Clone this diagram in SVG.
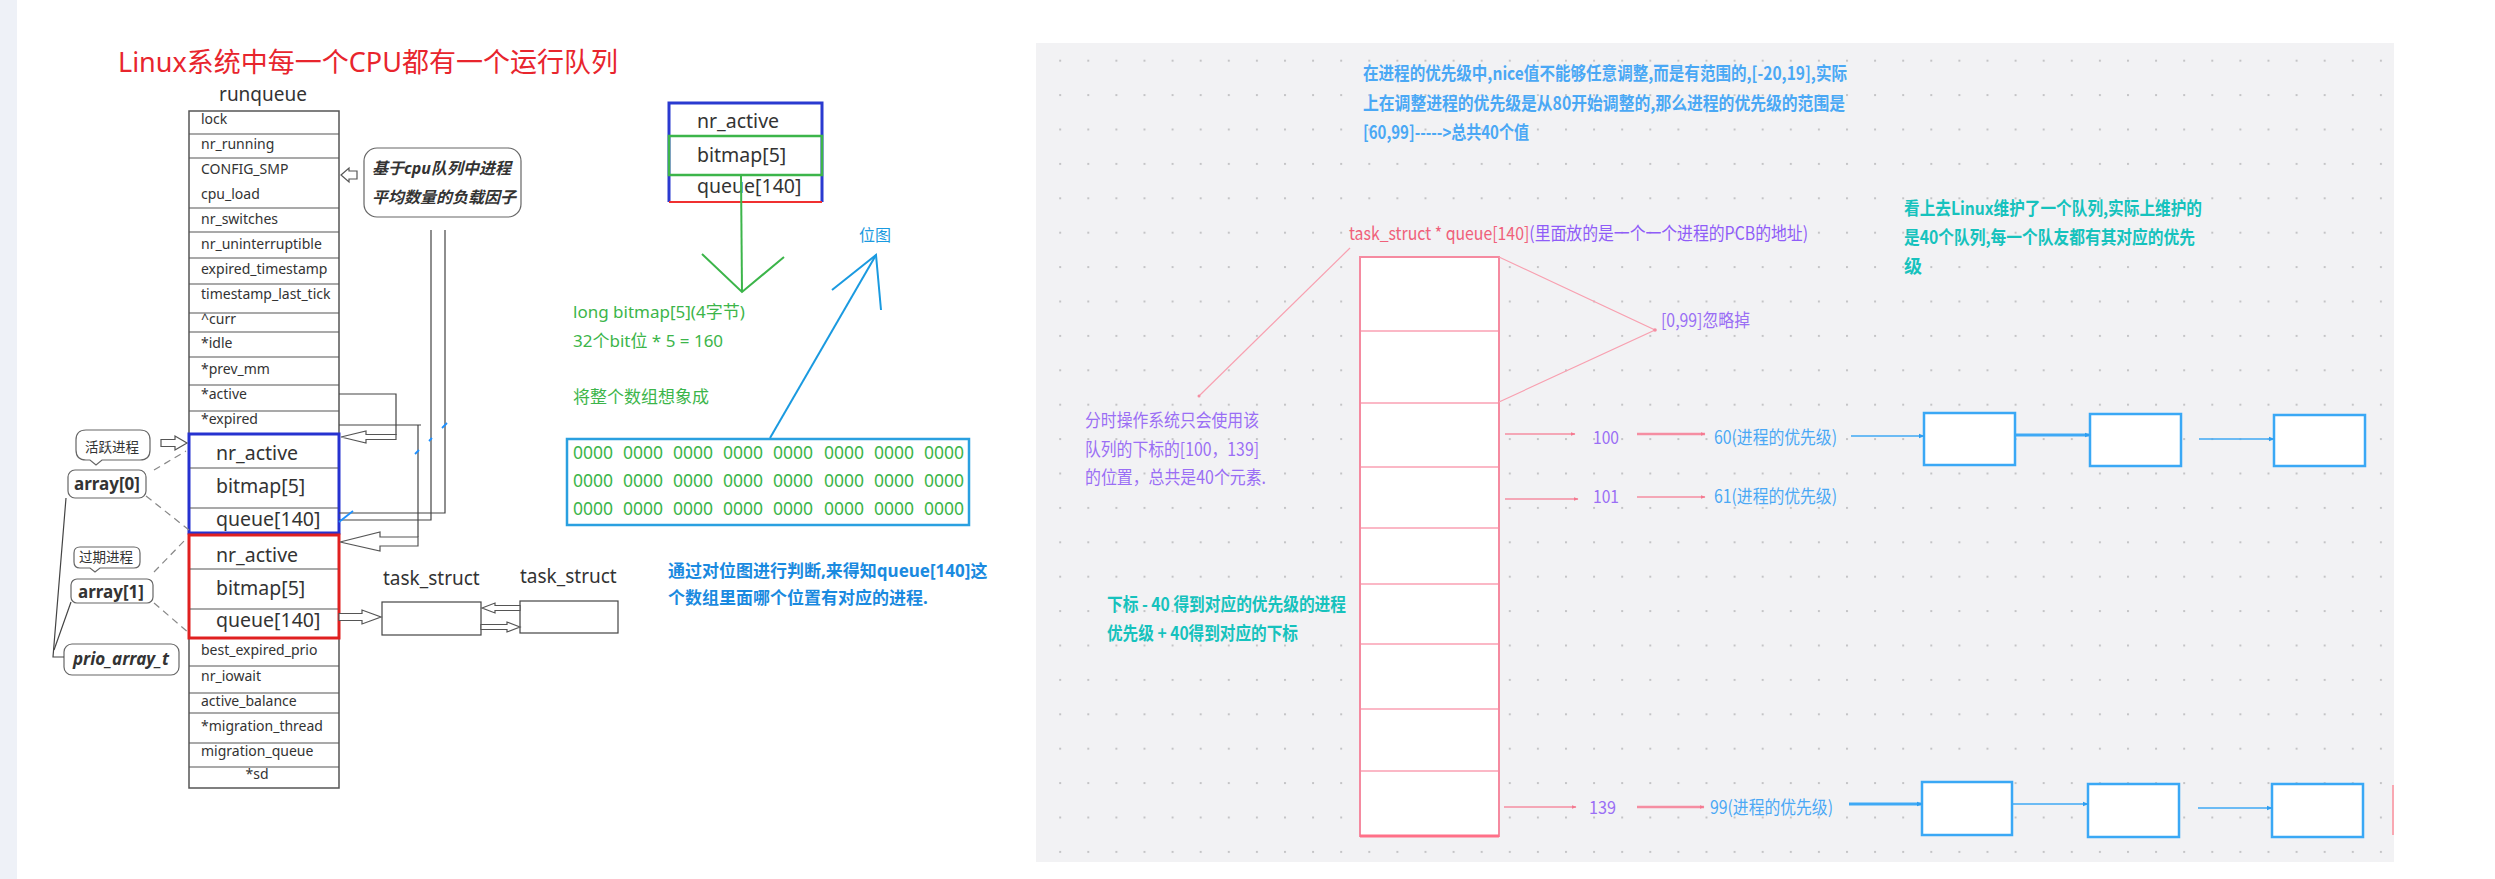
<svg xmlns="http://www.w3.org/2000/svg" width="2495" height="879" viewBox="0 0 2495 879">
<style>
.t{font-family:"Noto Sans","Noto Sans CJK SC",sans-serif;fill:#333}
.s14{font-size:14px}
.s19{font-size:19.5px}
.ln{stroke:#444;stroke-width:1.2;fill:none}
.rowl{stroke:#555;stroke-width:1.2}
.hol{fill:#fff;stroke:#555;stroke-width:1.2}
.dash{stroke:#888;stroke-width:1.2;stroke-dasharray:7 5;fill:none}
.bub{fill:#fff;stroke:#666;stroke-width:1.2}
.g{font-family:"Noto Sans","Noto Sans CJK SC",sans-serif;fill:#3cb54a;font-size:17px}
.z{font-family:"Noto Sans",sans-serif;fill:#3cb54a;font-size:17.5px}
.r{font-family:"Noto Sans CJK SC",sans-serif;font-size:18px}
.pur{fill:#9a6ef5}
.blu{fill:#4aa8f5}
.tea{fill:#16c2bd;font-weight:bold}
.pk{stroke:#f58ea2;stroke-width:1.5;fill:none}
.pkb{stroke:#f58ea2;stroke-width:2.5;fill:none}
.bl{stroke:#3fa9f5;stroke-width:1.5;fill:none}
.blb{stroke:#3fa9f5;stroke-width:3;fill:none}
.bbox{fill:#fff;stroke:#3aa8f5;stroke-width:2.5}
.qrow{stroke:#fbb8c6;stroke-width:2}
</style>
<defs>
<pattern id="dots" patternUnits="userSpaceOnUse" x="1059.2" y="59.7" width="28.1" height="34.4">
<rect x="0" y="0" width="2" height="2" fill="#c4c4c6"/>
</pattern>
<marker id="pka" viewBox="0 0 10 10" refX="9" refY="5" markerWidth="5" markerHeight="5" orient="auto" markerUnits="userSpaceOnUse">
<path d="M0,1 L10,5 L0,9 z" fill="#f5788f"/>
</marker>
<marker id="bla" viewBox="0 0 10 10" refX="9" refY="5" markerWidth="6" markerHeight="6" orient="auto" markerUnits="userSpaceOnUse">
<path d="M0,1 L10,5 L0,9 z" fill="#2f9ef0"/>
</marker>
</defs>

<!-- backgrounds -->
<rect x="0" y="0" width="2495" height="879" fill="#fff"/>
<rect x="0" y="0" width="17" height="879" fill="#eef1f7"/>
<rect x="1036" y="43" width="1358" height="819" fill="#f2f2f4"/>
<rect x="1036" y="43" width="1358" height="819" fill="url(#dots)"/>
<line x1="2393" y1="785" x2="2393" y2="835" stroke="#f9a8b2" stroke-width="2"/>

<!-- title -->
<text id="title" x="118" y="72" font-family="Noto Sans, Noto Sans CJK SC, sans-serif" font-size="27" fill="#e8252d">Linux系统中每一个CPU都有一个运行队列</text>

<!-- runqueue table -->
<g id="runqueue">
<text class="t" x="263" y="101" font-size="19" text-anchor="middle">runqueue</text>
<rect x="189" y="111" width="150" height="677" fill="#fff" stroke="#555" stroke-width="1.5"/>
<g class="rowl">
<line x1="189" y1="134" x2="339" y2="134"/><line x1="189" y1="158" x2="339" y2="158"/>
<line x1="189" y1="208" x2="339" y2="208"/><line x1="189" y1="232" x2="339" y2="232"/>
<line x1="189" y1="258" x2="339" y2="258"/><line x1="189" y1="284" x2="339" y2="284"/>
<line x1="189" y1="313" x2="339" y2="313"/><line x1="189" y1="332" x2="339" y2="332"/>
<line x1="189" y1="357" x2="339" y2="357"/><line x1="189" y1="385" x2="339" y2="385"/>
<line x1="189" y1="411" x2="339" y2="411"/>
<line x1="189" y1="666" x2="339" y2="666"/><line x1="189" y1="693" x2="339" y2="693"/>
<line x1="189" y1="713" x2="339" y2="713"/><line x1="189" y1="743" x2="339" y2="743"/>
<line x1="189" y1="767" x2="339" y2="767"/>
</g>
<g class="t s14">
<text x="201" y="124">lock</text>
<text x="201" y="149">nr_running</text>
<text x="201" y="174">CONFIG_SMP</text>
<text x="201" y="199">cpu_load</text>
<text x="201" y="224">nr_switches</text>
<text x="201" y="249">nr_uninterruptible</text>
<text x="201" y="274">expired_timestamp</text>
<text x="201" y="299">timestamp_last_tick</text>
<text x="201" y="324">^curr</text>
<text x="201" y="348">*idle</text>
<text x="201" y="374">*prev_mm</text>
<text x="201" y="399">*active</text>
<text x="201" y="424">*expired</text>
<text x="201" y="655">best_expired_prio</text>
<text x="201" y="681">nr_iowait</text>
<text x="201" y="706">active_balance</text>
<text x="201" y="731">*migration_thread</text>
<text x="201" y="756">migration_queue</text>
<text x="257" y="779" text-anchor="middle">*sd</text>
</g>
</g>

<g id="active-array">
<rect x="189" y="434" width="150" height="99" fill="#fff" stroke="#2632d0" stroke-width="3"/>
<line class="rowl" x1="190" y1="468" x2="338" y2="468"/>
<line class="rowl" x1="190" y1="508" x2="338" y2="508"/>
<text class="t s19" x="216" y="460">nr_active</text>
<text class="t s19" x="216" y="493">bitmap[5]</text>
<text class="t s19" x="216" y="526">queue[140]</text>
</g>

<g id="expired-array">
<rect x="189" y="535" width="150" height="103" fill="#fff" stroke="#e02020" stroke-width="3"/>
<line class="rowl" x1="190" y1="569" x2="338" y2="569"/>
<line class="rowl" x1="190" y1="609" x2="338" y2="609"/>
<text class="t s19" x="216" y="562">nr_active</text>
<text class="t s19" x="216" y="595">bitmap[5]</text>
<text class="t s19" x="216" y="627">queue[140]</text>
</g>

<g id="callout-load">
<rect x="364" y="148" width="157" height="69" rx="13" class="bub"/>
<text class="t" x="372" y="174" font-size="16" font-weight="bold" font-style="italic">基于cpu队列中进程</text>
<text class="t" x="372" y="203" font-size="16" font-weight="bold" font-style="italic">平均数量的负载因子</text>
</g>

<g id="label-active">
<path class="bub" d="M86,430 H140 Q150,430 150,440 V450 Q150,460 140,460 H102 L96,465 L90,460 H86 Q76,460 76,450 V440 Q76,430 86,430 Z"/>
<text class="t" x="85" y="452" font-size="13.5">活跃进程</text>
</g>
<g id="array0">
<rect class="bub" x="68" y="470" width="78" height="28" rx="7"/>
<text class="t" x="74" y="490" font-size="17" font-weight="bold">array[0]</text>
</g>
<g id="label-expired">
<path class="bub" d="M80,547 H134 Q140,547 140,553 V562 Q140,568 134,568 H100 L95,572 L90,568 H80 Q74,568 74,562 V553 Q74,547 80,547 Z"/>
<text class="t" x="79" y="562" font-size="13.5">过期进程</text>
</g>
<g id="array1">
<rect class="bub" x="71" y="579" width="82" height="24" rx="6"/>
<text class="t" x="78" y="598" font-size="17" font-weight="bold">array[1]</text>
</g>
<g id="prio-array-t">
<rect class="bub" x="64" y="644" width="115" height="31" rx="8"/>
<text class="t" x="73" y="665" font-size="17" font-weight="bold" font-style="italic">prio_array_t</text>
</g>

<g id="task-struct-1">
<text class="t" x="383" y="585" font-size="19">task_struct</text>
<rect x="382" y="602" width="99" height="33" fill="#fff" stroke="#444" stroke-width="1.2"/>
</g>
<g id="task-struct-2">
<text class="t" x="520" y="583" font-size="19">task_struct</text>
<rect x="520" y="601" width="98" height="32" fill="#fff" stroke="#444" stroke-width="1.2"/>
</g>

<!-- bitmap detail -->
<g id="bitmap-box">
<rect x="669" y="103" width="153" height="99" fill="#fff" stroke="none"/>
<path d="M669,202 V103 H822 V202" fill="none" stroke="#2a3ad0" stroke-width="3"/>
<line x1="669" y1="202" x2="822" y2="202" stroke="#f03030" stroke-width="2"/>
<rect x="669" y="136" width="153" height="39" fill="none" stroke="#3cb54a" stroke-width="2.5"/>
<text class="t s19" x="697" y="128">nr_active</text>
<text class="t s19" x="697" y="162">bitmap[5]</text>
<text class="t s19" x="697" y="193">queue[140]</text>
</g>
<g id="bitmap-notes">
<text class="g" x="573" y="318">long bitmap[5](4字节)</text>
<text class="g" x="573" y="347">32个bit位 * 5 = 160</text>
<text class="g" x="573" y="403">将整个数组想象成</text>
</g>
<text id="bitmap-label" x="859" y="241" font-family="Noto Sans CJK SC, sans-serif" font-size="16" fill="#1a9ae0">位图</text>
<g id="zeros-box">
<rect x="567" y="439" width="402" height="86" fill="#fff" stroke="#2aa0e0" stroke-width="2.5"/>
<g class="z">
<text x="573" y="459">0000</text><text x="623" y="459">0000</text><text x="673" y="459">0000</text><text x="723" y="459">0000</text><text x="773" y="459">0000</text><text x="824" y="459">0000</text><text x="874" y="459">0000</text><text x="924" y="459">0000</text>
<text x="573" y="487">0000</text><text x="623" y="487">0000</text><text x="673" y="487">0000</text><text x="723" y="487">0000</text><text x="773" y="487">0000</text><text x="824" y="487">0000</text><text x="874" y="487">0000</text><text x="924" y="487">0000</text>
<text x="573" y="515">0000</text><text x="623" y="515">0000</text><text x="673" y="515">0000</text><text x="723" y="515">0000</text><text x="773" y="515">0000</text><text x="824" y="515">0000</text><text x="874" y="515">0000</text><text x="924" y="515">0000</text>
</g>
</g>
<g id="bitmap-judge">
<text x="668" y="577" font-family="Noto Sans, Noto Sans CJK SC, sans-serif" font-size="17" font-weight="bold" fill="#1a8ae0">通过对位图进行判断,来得知queue[140]这</text>
<text x="668" y="604" font-family="Noto Sans, Noto Sans CJK SC, sans-serif" font-size="17" font-weight="bold" fill="#1a8ae0">个数组里面哪个位置有对应的进程.</text>
</g>

<!-- right panel nodes -->
<g id="nice-note" class="r blu" font-weight="bold">
<text x="1363" y="80" textLength="484" lengthAdjust="spacingAndGlyphs">在进程的优先级中,nice值不能够任意调整,而是有范围的,[-20,19],实际</text>
<text x="1363" y="110" textLength="482" lengthAdjust="spacingAndGlyphs">上在调整进程的优先级是从80开始调整的,那么进程的优先级的范围是</text>
<text x="1363" y="139" textLength="166" lengthAdjust="spacingAndGlyphs">[60,99]-----&gt;总共40个值</text>
</g>
<g id="queue-title" class="r">
<text x="1349" y="240" textLength="459" lengthAdjust="spacingAndGlyphs"><tspan fill="#f0607a">task_struct * queue[140]</tspan><tspan fill="#8f5cf8">(里面放的是一个一个进程的PCB的地址)</tspan></text>
</g>
<g id="queue-array">
<rect x="1360" y="257" width="139" height="579" fill="#fff" stroke="#f58aa0" stroke-width="2"/>
<g class="qrow">
<line x1="1361" y1="331" x2="1498" y2="331"/><line x1="1361" y1="403" x2="1498" y2="403"/>
<line x1="1361" y1="467" x2="1498" y2="467"/><line x1="1361" y1="528" x2="1498" y2="528"/>
<line x1="1361" y1="584" x2="1498" y2="584"/><line x1="1361" y1="644" x2="1498" y2="644"/>
<line x1="1361" y1="709" x2="1498" y2="709"/><line x1="1361" y1="771" x2="1498" y2="771"/>
</g>
<line x1="1360" y1="836" x2="1499" y2="836" stroke="#ff7088" stroke-width="3"/>
</g>
<text id="ignore-label" class="r pur" x="1661" y="327" textLength="89" lengthAdjust="spacingAndGlyphs">[0,99]忽略掉</text>
<g id="timeshare-note" class="r pur">
<text x="1085" y="427" textLength="174" lengthAdjust="spacingAndGlyphs">分时操作系统只会使用该</text>
<text x="1085" y="456" textLength="174" lengthAdjust="spacingAndGlyphs">队列的下标的[100，139]</text>
<text x="1085" y="484" textLength="181" lengthAdjust="spacingAndGlyphs">的位置，总共是40个元素.</text>
</g>
<g id="index-note" class="r tea">
<text x="1107" y="611" textLength="239" lengthAdjust="spacingAndGlyphs">下标 - 40 得到对应的优先级的进程</text>
<text x="1107" y="640" textLength="191" lengthAdjust="spacingAndGlyphs">优先级 + 40得到对应的下标</text>
</g>
<g id="linux-note" class="r tea">
<text x="1904" y="215" textLength="298" lengthAdjust="spacingAndGlyphs">看上去Linux维护了一个队列,实际上维护的</text>
<text x="1904" y="244" textLength="291" lengthAdjust="spacingAndGlyphs">是40个队列,每一个队友都有其对应的优先</text>
<text x="1904" y="273">级</text>
</g>
<g id="row-100" class="r">
<text class="pur" x="1593" y="444" textLength="26" lengthAdjust="spacingAndGlyphs">100</text>
<text class="blu" x="1714" y="444" textLength="123" lengthAdjust="spacingAndGlyphs">60(进程的优先级)</text>
</g>
<g id="row-101" class="r">
<text class="pur" x="1593" y="503" textLength="26" lengthAdjust="spacingAndGlyphs">101</text>
<text class="blu" x="1714" y="503" textLength="123" lengthAdjust="spacingAndGlyphs">61(进程的优先级)</text>
</g>
<g id="row-139" class="r">
<text class="pur" x="1589" y="814" textLength="27" lengthAdjust="spacingAndGlyphs">139</text>
<text class="blu" x="1710" y="814" textLength="123" lengthAdjust="spacingAndGlyphs">99(进程的优先级)</text>
</g>
<g id="pcb-60-1"><rect class="bbox" x="1924" y="413" width="91" height="52"/></g>
<g id="pcb-60-2"><rect class="bbox" x="2090" y="414" width="91" height="52"/></g>
<g id="pcb-60-3"><rect class="bbox" x="2274" y="415" width="91" height="51"/></g>
<g id="pcb-99-1"><rect class="bbox" x="1922" y="782" width="90" height="53"/></g>
<g id="pcb-99-2"><rect class="bbox" x="2088" y="784" width="91" height="53"/></g>
<g id="pcb-99-3"><rect class="bbox" x="2272" y="784" width="91" height="53"/></g>

<!-- connectors -->
<g id="connectors">
<polygon class="hol" points="341,175 349,168 349,171 357,171 357,179 349,179 349,182"/>
<polyline class="ln" points="339,394 396,394 396,435"/>
<polygon class="hol" points="341,437 366,431 366,434.5 396,434.5 396,439.5 366,439.5 366,443"/>
<polyline class="ln" points="339,425 421,425"/>
<line class="ln" x1="418" y1="425" x2="418" y2="537"/>
<polygon class="hol" points="340,542 380,532 380,537 418,537 418,546 380,546 380,551"/>
<polyline class="ln" points="431,230 431,520 339,520"/>
<polyline class="ln" points="445,230 445,513 339,513"/>
<g stroke="#1e90ff" stroke-width="1.8">
<line x1="339" y1="522" x2="353" y2="511"/>
<line x1="415" y1="454" x2="419" y2="450"/>
<line x1="429" y1="441" x2="432" y2="438"/>
<line x1="442" y1="428" x2="447" y2="423"/>
</g>
<polygon class="hol" points="161,439.5 175,439.5 175,436 187,443 175,450 175,446.5 161,446.5"/>
<line class="dash" x1="154" y1="470" x2="186" y2="451"/>
<line class="dash" x1="146" y1="496" x2="189" y2="530"/>
<line class="dash" x1="154" y1="572" x2="187" y2="538"/>
<line class="dash" x1="154" y1="603" x2="189" y2="633"/>
<polyline class="ln" points="66,498 53,657 64,657"/>
<line class="ln" x1="71" y1="602" x2="54" y2="650"/>
<polygon class="hol" points="339,613.5 362,613.5 362,610 381,617 362,624 362,620.5 339,620.5"/>
<polygon class="hol" points="482,608 495,603 495,605.5 520,605.5 520,610.5 495,610.5 495,613"/>
<polygon class="hol" points="520,627 507,622 507,624.5 481,624.5 481,629.5 507,629.5 507,632"/>
<line x1="741" y1="175" x2="742" y2="292" stroke="#3cb54a" stroke-width="2"/>
<polyline points="702,254 742,292 784,257" fill="none" stroke="#3cb54a" stroke-width="2"/>
<line x1="770" y1="438" x2="876" y2="255" stroke="#1a9ae0" stroke-width="2"/>
<polyline points="832,290 876,255 881,310" fill="none" stroke="#1a9ae0" stroke-width="2"/>
<line x1="1350" y1="248" x2="1199" y2="396" stroke="#f8a0b0" stroke-width="1.2"/>
<circle cx="1199" cy="396" r="1.5" fill="#f58ea2"/>
<polyline points="1499,257 1655,330 1499,402" fill="none" stroke="#f8a0b0" stroke-width="1.2"/>
<circle cx="1655" cy="330" r="1.8" fill="#f58ea2"/>
<line class="pk" x1="1505" y1="434" x2="1575" y2="434" marker-end="url(#pka)"/>
<line class="pkb" x1="1637" y1="434" x2="1705" y2="434" marker-end="url(#pka)"/>
<line class="pk" x1="1505" y1="499" x2="1578" y2="499" marker-end="url(#pka)"/>
<line class="pk" x1="1637" y1="497" x2="1705" y2="497" marker-end="url(#pka)"/>
<line class="pk" x1="1504" y1="807" x2="1576" y2="807" marker-end="url(#pka)"/>
<line class="pkb" x1="1637" y1="807" x2="1704" y2="807" marker-end="url(#pka)"/>
<line class="bl" x1="1851" y1="436" x2="1924" y2="436" marker-end="url(#bla)"/>
<line class="blb" x1="2016" y1="435" x2="2090" y2="435" marker-end="url(#bla)"/>
<line class="bl" x1="2199" y1="439" x2="2274" y2="439" marker-end="url(#bla)"/>
<line class="blb" x1="1849" y1="804" x2="1922" y2="804" marker-end="url(#bla)"/>
<line class="bl" x1="2012" y1="804" x2="2088" y2="804" marker-end="url(#bla)"/>
<line class="bl" x1="2198" y1="808" x2="2272" y2="808" marker-end="url(#bla)"/>
</g>
</svg>
